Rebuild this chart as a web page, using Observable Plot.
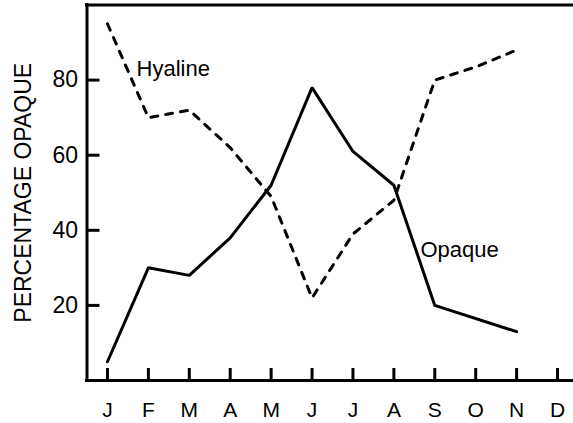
<!DOCTYPE html>
<html>
<head>
<meta charset="utf-8">
<script src="https://cdn.jsdelivr.net/npm/d3@7"></script>
<script src="https://cdn.jsdelivr.net/npm/@observablehq/plot@0.6"></script>
<style>
  html, body { margin: 0; padding: 0; background: #fff; overflow: hidden; }
</style>
</head>
<body>
<div id="chart"></div>
<script>
// ---- data ----
const monthLabels = ["J","F","M","A","M","J","J","A","S","O","N","D"];
const monthIndex = [1,2,3,4,5,6,7,8,9,10,11,12];

const opaqueMonths = [1,2,3,4,5,6,7,8,9,11];
const opaqueValues = [5,30,28,38,52,78,61,52,20,13];

const hyalineMonths = [1,2,3,4,5,6,7,8,9,10,11];
const hyalineValues = [95,70,72,62,49,22,39,48,80,83.5,88];

const yTicks = [20,40,60,80];
const yTitle = "PERCENTAGE OPAQUE";

const seriesLabels = ["Hyaline","Opaque"];
const seriesLabelMonth = [1.71, 8.65];
const seriesLabelValue = [81.1, 33];

const xDomain = [0.5, 12.39];
const yDomain = [0, 100];

// ---- tables ----
const opaque = opaqueMonths.map((m, i) => ({month: m, value: opaqueValues[i]}));
const hyaline = hyalineMonths.map((m, i) => ({month: m, value: hyalineValues[i]}));
const labels = seriesLabels.map((t, i) => ({text: t, month: seriesLabelMonth[i], value: seriesLabelValue[i]}));

const font = "'Liberation Sans', Arial, Helvetica, sans-serif";

const chart = Plot.plot({
  width: 573,
  height: 423,
  marginLeft: 86.5,
  marginRight: 0,
  marginTop: 4.5,
  marginBottom: 43,
  style: {fontFamily: font, fontSize: "21px", background: "#fff", color: "#000"},
  x: {domain: xDomain, axis: null},
  y: {domain: yDomain, axis: null},
  marks: [
    // frame lines (left, top, bottom)
    Plot.ruleY([yDomain[0], yDomain[1]], {stroke: "#000", strokeWidth: 3, strokeLinecap: "square"}),
    Plot.ruleX([xDomain[0]], {stroke: "#000", strokeWidth: 3, strokeLinecap: "square"}),
    // inward ticks
    Plot.axisY({ticks: yTicks, tickSize: 13, dx: 13, tickFormat: () => "", stroke: "#000", strokeWidth: 3, label: null}),
    Plot.ruleX(monthIndex, {x: d => d, y1: () => yDomain[0], y2: () => yDomain[0], insetBottom: 12, stroke: "#000", strokeWidth: 3}),
    // tick labels
    Plot.axisY({ticks: yTicks, tickSize: 0, tickPadding: 9, fontSize: 23, label: null}),
    Plot.axisX({ticks: monthIndex, tickSize: 0, tickPadding: 22, fontSize: 21, tickFormat: d => monthLabels[d - 1], label: null}),
    // series
    Plot.line(opaque, {x: "month", y: "value", stroke: "#000", strokeWidth: 3, strokeLinejoin: "miter"}),
    Plot.line(hyaline, {x: "month", y: "value", stroke: "#000", strokeWidth: 3, strokeDasharray: "7,8", strokeLinejoin: "miter"}),
    // series labels
    Plot.text(labels, {x: "month", y: "value", text: "text", textAnchor: "start", lineAnchor: "bottom", fontSize: 22, fill: "#000"}),
    // y title
    Plot.text([yTitle], {frameAnchor: "left", dx: -63, rotate: -90, textAnchor: "middle", lineAnchor: "middle", fontSize: 23, fill: "#000", ariaLabel: "ytitle"})
  ]
});

d3.select(chart).selectAll('[aria-label="ytitle"] text').attr("letter-spacing", "0.8px");
document.getElementById("chart").appendChild(chart);
</script>
</body>
</html>
